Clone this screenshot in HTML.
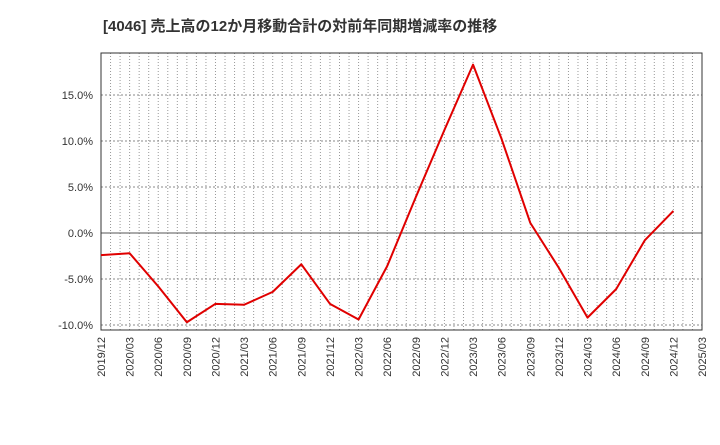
<!DOCTYPE html>
<html><head><meta charset="utf-8"><style>
body{margin:0;background:#fff;}
svg text{font-family:"Liberation Sans","Noto Sans CJK JP",sans-serif;}
</style></head><body>
<svg id="chart" width="720" height="440" xmlns="http://www.w3.org/2000/svg">
<text x="103" y="31" font-size="15" font-weight="bold" fill="#333">[4046]  売上高の12か月移動合計の対前年同期増減率の推移</text>
<g id="grid"></g><g id="axes"></g><g id="series"></g>
</svg>
<script>
const categories=["2019/12","2020/03","2020/06","2020/09","2020/12","2021/03","2021/06","2021/09","2021/12","2022/03","2022/06","2022/09","2022/12","2023/03","2023/06","2023/09","2023/12","2024/03","2024/06","2024/09","2024/12","2025/03"];
const values=[-2.4,-2.2,-5.8,-9.7,-7.7,-7.8,-6.4,-3.4,-7.7,-9.4,-3.6,3.9,11.2,18.3,10.2,1.1,-3.8,-9.2,-6.1,-0.8,2.4];
const yTicks=[-10,-5,0,5,10,15];
const yLabels=["-10.0%","-5.0%","0.0%","5.0%","10.0%","15.0%"];
const NS="http://www.w3.org/2000/svg";
const L=101,R=702,T=53,B=330;
const x=i=>L+i*(R-L)/(categories.length-1);
const y=v=>233-v*9.2;
function mk(tag,attrs,parent){const e=document.createElementNS(NS,tag);for(const k in attrs)e.setAttribute(k,attrs[k]);document.getElementById(parent).appendChild(e);return e;}
// monthly vertical dotted grid
for(let m=1;m<(categories.length-1)*3;m++){
 const xx=L+m*(R-L)/((categories.length-1)*3);
 const g=mk("line",{x1:xx,x2:xx,y1:T,y2:B,stroke:"#999","stroke-width":1,"stroke-dasharray":"1,2"},"grid");
 
 
}
yTicks.forEach((v,i)=>{
 const ln=mk("line",{x1:L,x2:R,y1:y(v),y2:y(v),stroke:v===0?"#555":"#888","stroke-width":1,"stroke-dasharray":v===0?"":"2,2"},"grid");
 
 
 const t=mk("text",{x:L-8,y:y(v)+4,"text-anchor":"end","font-size":11,fill:"#333"},"axes");
 t.textContent=yLabels[i];
 
 
});
categories.forEach((c,i)=>{
 const t=mk("text",{x:0,y:0,"text-anchor":"end","font-size":11,fill:"#333",transform:`translate(${x(i)+4},${B+7}) rotate(-90)`},"axes");
 t.textContent=c;
 
 
});
const frame=mk("rect",{x:L,y:T,width:R-L,height:B-T,fill:"none",stroke:"#333","stroke-width":1},"axes");


const pl=mk("polyline",{points:values.map((v,i)=>x(i)+","+y(v)).join(" "),fill:"none",stroke:"#e00000","stroke-width":2,"stroke-linejoin":"round"},"series");


</script>
</body></html>
